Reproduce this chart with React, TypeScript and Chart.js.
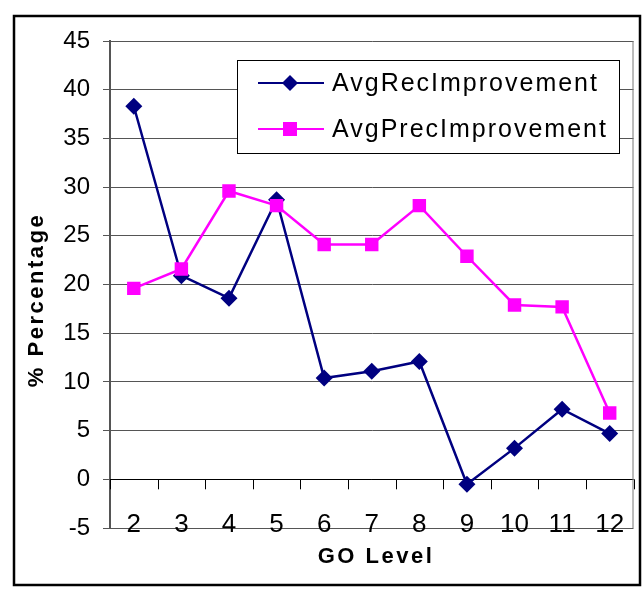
import React, { useEffect, useRef } from 'react';
import { Chart, registerables } from 'chart.js';

Chart.register(...registerables);

const categories = ['2', '3', '4', '5', '6', '7', '8', '9', '10', '11', '12'];
const avgRecImprovement = [38.3, 20.9, 18.6, 28.7, 10.4, 11.1, 12.1, -0.5, 3.2, 7.2, 4.7];
const avgPrecImprovement = [19.6, 21.6, 29.6, 28.1, 24.1, 24.1, 28.1, 22.9, 17.9, 17.7, 6.8];
const seriesNames = ['AvgRecImprovement', 'AvgPrecImprovement'];
const seriesColors = ['#000080', '#FF00FF'];
const seriesMarkers = ['rectRot', 'rect'];
const yMin = -5;
const yMax = 45;
const yStep = 5;
const xTitle = 'GO Level';
const yTitle = '% Percentage';

const FONT = '"Liberation Sans", Arial, sans-serif';

function drawMarker(ctx: CanvasRenderingContext2D, style: string, x: number, y: number, color: string) {
  ctx.save();
  ctx.fillStyle = color;
  ctx.beginPath();
  if (style === 'rectRot') {
    const r = 8;
    ctx.moveTo(x, y - r);
    ctx.lineTo(x + r, y);
    ctx.lineTo(x, y + r);
    ctx.lineTo(x - r, y);
    ctx.closePath();
  } else {
    const h = 7;
    ctx.rect(x - h, y - h, 2 * h, 2 * h);
  }
  ctx.fill();
  ctx.restore();
}

const decorPlugin = {
  id: 'decor',
  beforeDatasetsDraw(chart: any) {
    const { ctx, chartArea, scales } = chart;
    const y0 = scales.y.getPixelForValue(0);
    ctx.save();
    ctx.strokeStyle = '#000';
    ctx.lineWidth = 1;
    ctx.beginPath();
    ctx.moveTo(chartArea.left, Math.round(y0) + 0.5);
    ctx.lineTo(chartArea.right, Math.round(y0) + 0.5);
    const n = categories.length;
    const w = (chartArea.right - chartArea.left) / n;
    for (let i = 0; i <= n; i++) {
      const x = Math.round(chartArea.left + i * w) + 0.5;
      ctx.moveTo(x, y0);
      ctx.lineTo(x, y0 + 10);
    }
    ctx.stroke();
    ctx.strokeStyle = '#777';
    ctx.beginPath();
    ctx.moveTo(chartArea.right - 0.5, chartArea.top);
    ctx.lineTo(chartArea.right - 0.5, chartArea.bottom);
    ctx.stroke();
    ctx.restore();
  },
  afterDraw(chart: any) {
    const { ctx } = chart;
    ctx.save();
    // outer border
    ctx.strokeStyle = '#000';
    ctx.lineWidth = 2.5;
    ctx.strokeRect(14, 16, 626, 569);

    // axis titles
    ctx.fillStyle = '#000';
    ctx.font = `bold 22px ${FONT}`;
    (ctx as any).letterSpacing = '2.5px';
    ctx.textAlign = 'center';
    ctx.textBaseline = 'middle';
    ctx.fillText(xTitle, 376, 557);
    ctx.save();
    ctx.translate(37, 300);
    ctx.rotate(-Math.PI / 2);
    ctx.fillText(yTitle, 0, 0);
    ctx.restore();

    // legend
    ctx.fillStyle = '#fff';
    ctx.fillRect(237, 60, 382, 93);
    ctx.strokeStyle = '#000';
    ctx.lineWidth = 1;
    ctx.strokeRect(237.5, 60.5, 382, 93);
    ctx.font = `25px ${FONT}`;
    (ctx as any).letterSpacing = '2px';
    ctx.textAlign = 'left';
    seriesNames.forEach((name, i) => {
      const y = 83 + i * 46;
      ctx.strokeStyle = seriesColors[i];
      ctx.lineWidth = 2;
      ctx.beginPath();
      ctx.moveTo(258, y);
      ctx.lineTo(324, y);
      ctx.stroke();
      drawMarker(ctx, seriesMarkers[i], 290, y, seriesColors[i]);
      ctx.fillStyle = '#000';
      ctx.fillText(name, 332, y + 1);
    });
    ctx.restore();
  },
};

export default function App() {
  const ref = useRef<HTMLCanvasElement>(null);
  useEffect(() => {
    if (!ref.current) return;
    const chart = new Chart(ref.current, {
      type: 'line',
      data: {
        labels: categories,
        datasets: [
          {
            label: seriesNames[0],
            data: avgRecImprovement,
            borderColor: seriesColors[0],
            backgroundColor: seriesColors[0],
            borderWidth: 2.5,
            pointStyle: 'rectRot',
            pointRadius: 8.5,
            pointBorderWidth: 0,
            tension: 0,
            order: 1,
          },
          {
            label: seriesNames[1],
            data: avgPrecImprovement,
            borderColor: seriesColors[1],
            backgroundColor: seriesColors[1],
            borderWidth: 2.5,
            pointStyle: 'rect',
            pointRadius: 9.5,
            pointBorderWidth: 0,
            tension: 0,
            order: 0,
          },
        ],
      },
      options: {
        animation: false,
        responsive: false,
        devicePixelRatio: 1,
        layout: { padding: { top: 41, right: 5, left: 0, bottom: 0 } },
        plugins: { legend: { display: false }, tooltip: { enabled: false } },
        scales: {
          x: {
            type: 'category',
            offset: true,
            grid: { display: false, drawTicks: false },
            border: { display: false },
            ticks: {
              color: '#000',
              font: { family: FONT, size: 26 },
              mirror: true,
              padding: -12,
              maxRotation: 0,
              autoSkip: false,
            },
            afterFit: (s: any) => {
              s.height = 65;
            },
          },
          y: {
            min: yMin,
            max: yMax,
            ticks: {
              stepSize: yStep,
              color: '#000',
              font: { family: FONT, size: 24 },
              padding: 13,
            },
            grid: { color: '#555', lineWidth: 1, tickLength: 7, drawTicks: true },
            border: { color: '#555', width: 2 },
            afterFit: (s: any) => {
              s.width = 110;
            },
          },
        },
      },
      plugins: [decorPlugin],
    });
    return () => chart.destroy();
  }, []);
  return (
    <div style={{ position: 'absolute', left: 0, top: 0, width: 643, height: 593, background: '#fff' }}>
      <canvas ref={ref} width={643} height={593} style={{ display: 'block' }} />
    </div>
  );
}
